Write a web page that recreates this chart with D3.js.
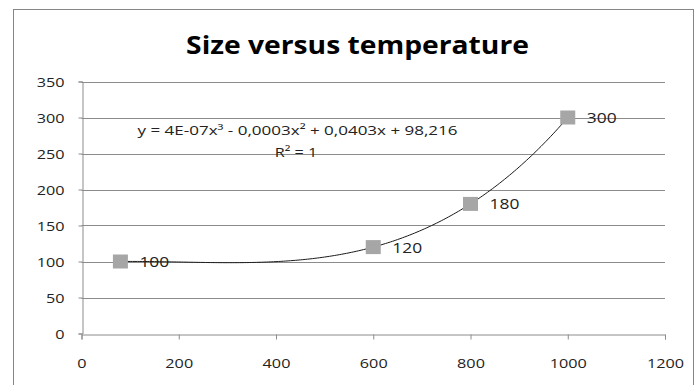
<!DOCTYPE html>
<html lang="en">
<head>
<meta charset="utf-8">
<title>Size versus temperature</title>
<script src="https://cdn.jsdelivr.net/npm/d3@7"></script>
<style>
  body { margin: 0; background: #fff; }
  svg text { font-family: "Open Sans", sans-serif; fill: #222; }
</style>
</head>
<body>
<script>
// data
var temperature = [80, 600, 800, 1000];
var size = [100, 120, 180, 300];
var xTicks = [0, 200, 400, 600, 800, 1000, 1200];
var yTicks = [0, 50, 100, 150, 200, 250, 300, 350];
var equation = "y = 4E-07x³ - 0,0003x² + 0,0403x + 98,216";
var rSquared = "R² = 1";

var w = 694, h = 385;
var k = 1.2; // the original text is a bit wide, stretch it horizontally
var svg = d3.select("body").append("svg").attr("width", w).attr("height", h);

// chart border
svg.append("rect").attr("x", 13.5).attr("y", 9.5).attr("width", 680).attr("height", 390)
  .attr("fill", "none").attr("stroke", "#868686");

var x = d3.scaleLinear().domain([0, 1200]).range([81.5, 665]);
var y = d3.scaleLinear().domain([0, 350]).range([333.5, 81.5]);

// gridlines
svg.append("g").selectAll("line").data(yTicks.slice(1)).enter().append("line")
  .attr("x1", x(0)).attr("x2", x(1200))
  .attr("y1", function (d) { return Math.round(y(d)) + 0.5; })
  .attr("y2", function (d) { return Math.round(y(d)) + 0.5; })
  .attr("stroke", "#8c8c8c");

var xAxis = svg.append("g").attr("transform", "translate(0," + (Math.round(y(0)) + 0.5) + ")")
  .call(d3.axisBottom(x).tickValues(xTicks).tickSize(5).tickFormat(d3.format("d")));
var yAxis = svg.append("g").attr("transform", "translate(" + (Math.round(x(0)) + 0.5) + ",0)")
  .call(d3.axisLeft(y).tickValues(yTicks).tickSize(4).tickFormat(d3.format("d")));
[xAxis, yAxis].forEach(function (a) {
  a.select(".domain").attr("stroke", "#8c8c8c");
  a.selectAll(".tick line").attr("stroke", "#8c8c8c");
  a.selectAll("text").attr("font-family", null).attr("font-size", 13.5)
    .attr("transform", "scale(" + k + ",1)");
});
xAxis.selectAll("text").attr("y", 33.5).attr("dy", 0);
yAxis.selectAll("text").attr("x", -18 / k).attr("dy", "0.36em");

// polynomial (order 3) trendline: passes through all four points, R² = 1
function trend(t) {
  var s = 0;
  for (var i = 0; i < temperature.length; i++) {
    var p = size[i];
    for (var j = 0; j < temperature.length; j++) {
      if (j !== i) p *= (t - temperature[j]) / (temperature[i] - temperature[j]);
    }
    s += p;
  }
  return s;
}
var trendPts = d3.range(temperature[0], temperature[3] + 1, 5);
svg.append("path").datum(trendPts)
  .attr("fill", "none").attr("stroke", "#1a1a1a").attr("stroke-width", 1)
  .attr("d", d3.line().x(function (d) { return x(d); }).y(function (d) { return y(trend(d)); }));

// markers
var mw = 15, mh = 14;
svg.append("g").selectAll("rect").data(temperature).enter().append("rect")
  .attr("x", function (d) { return x(d) - mw / 2; })
  .attr("y", function (d, i) { return y(size[i]) - mh / 2; })
  .attr("width", mw).attr("height", mh)
  .attr("fill", "#a6a6a6");

// point labels
svg.append("g").selectAll("text").data(temperature).enter().append("text")
  .attr("transform", function (d, i) {
    return "translate(" + (x(d) + 19) + "," + (y(size[i]) + 5.5) + ") scale(" + k + ",1)";
  })
  .attr("font-size", 14.5)
  .text(function (d, i) { return size[i]; });

// trendline label
svg.append("text").attr("transform", "translate(297.5,134.5) scale(1.26,1)")
  .attr("text-anchor", "middle").attr("font-size", 13.5).text(equation);
svg.append("text").attr("transform", "translate(296,157) scale(" + k + ",1)")
  .attr("text-anchor", "middle").attr("font-size", 13.5).text(rSquared);

// title
svg.append("text").attr("transform", "translate(357.5,53.5) scale(1.13,1)")
  .attr("text-anchor", "middle").attr("font-size", 25).attr("font-weight", "bold")
  .style("fill", "#000")
  .text("Size versus temperature");
</script>
</body>
</html>
